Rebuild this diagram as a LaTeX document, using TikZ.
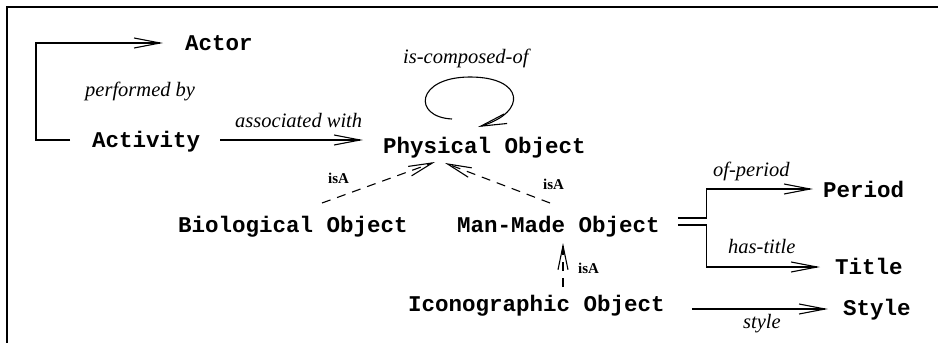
\documentclass[tikz,border=0pt]{standalone}
\usepackage{fontspec}
\setmainfont{Liberation Serif}
\newfontfamily\courfont{Liberation Mono}
\usetikzlibrary{arrows.meta,calc}
\begin{document}
\begin{tikzpicture}[x=1pt,y=-1pt,
  cls/.style={font=\courfont\bfseries\fontsize{22.5}{24}\selectfont, inner sep=0pt, anchor=base west},
  rel/.style={font=\itshape\fontsize{20.5}{22}\selectfont, inner sep=0pt, anchor=base west},
  isa/.style={font=\bfseries\fontsize{15}{16}\selectfont, inner sep=0pt, anchor=base west},
  conn/.style={line width=1.1pt, -{Straight Barb[length=26pt,width=10pt,line width=1.1pt]}},
  isaconn/.style={line width=1.1pt, dash pattern=on 9pt off 7pt, -{Straight Barb[length=24pt,width=10pt,line width=1.1pt]}},
  frameline/.style={line width=1.4pt}
]
\useasboundingbox (0,0) rectangle (938,343);
\draw[frameline] (7,343) -- (7,7) -- (938,7);

% class nodes
\node[cls] (actor) at (185,50) {Actor};
\node[cls] (act) at (92,147) {Activity};
\node[cls] (phys) at (383,153) {Physical Object};
\node[cls] (bio) at (178,232) {Biological Object};
\node[cls] (man) at (457,232) {Man-Made Object};
\node[cls] (icon) at (408,311) {Iconographic Object};
\node[cls] (period) at (823,197) {Period};
\node[cls] (title) at (835,274) {Title};
\node[cls] (style) at (843,315) {Style};

% relation labels
\node[rel] (lperf) at (85,96) {performed by};
\node[rel] (lassoc) at (235,127) {associated with};
\node[rel] (lcomp) at (403,63) {is-composed-of};
\node[rel] (lperiod) at (713,176) {of-period};
\node[rel] (ltitle) at (728,253) {has-title};
\node[rel] (lstyle) at (743,328) {style};
\node[isa] (isa1) at (328,183) {isA};
\node[isa] (isa2) at (543,189) {isA};
\node[isa] (isa3) at (578,273) {isA};

% connectors
\draw[conn] ($(act.base west)+(-22,-7)$) -- ++(-34,0) |- ($(actor.base west)+(-22,-7)$);
\draw[conn] ($(act.base east)+(20,-7)$) -- ($(phys.base west)+(-20,-13)$);
\coordinate (loopS) at (452,119);
\coordinate (loopE) at (478,127);
\draw[conn] (loopS) .. controls (412,117) and (416,77) .. (470,77)
  .. controls (524,77) and (528,112) .. (loopE);
\draw[isaconn] ($(bio.base west)+(144,-29)$) -- ($(phys.base west)+(52,9)$);
\draw[isaconn] ($(man.base west)+(93,-29)$) -- ($(phys.base west)+(62,10)$);
\draw[isaconn] ($(icon.base west)+(155,-24)$) -- ($(man.base west)+(106,11)$);
\draw[conn] ($(man.base east)+(18,-14)$) -- ++(29,0) |- ($(period.base west)+(-10,-8)$);
\draw[conn] ($(man.base east)+(18,-7)$) -- ++(29,0) |- ($(title.base west)+(-15,-7)$);
\draw[conn] ($(icon.base east)+(27,-2)$) -- ($(style.base west)+(-15,-6)$);
\end{tikzpicture}
\end{document}
